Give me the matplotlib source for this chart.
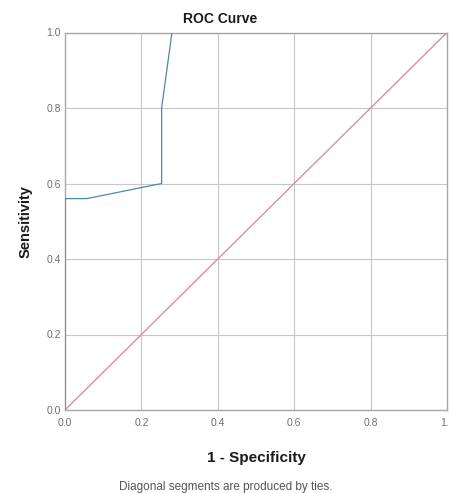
import matplotlib
matplotlib.use("Agg")
import matplotlib.pyplot as plt

fpr = [0.0, 0.0, 0.057, 0.253, 0.253, 0.28, 1.0]
tpr = [0.0, 0.56, 0.56, 0.60, 0.80, 1.0, 1.0]
ref = [0.0, 1.0]
ticks = [0.0, 0.2, 0.4, 0.6, 0.8, 1.0]
tick_labels = ["0.0", "0.2", "0.4", "0.6", "0.8", "1.0"]

plt.rcParams['font.family'] = ['Liberation Sans', 'DejaVu Sans']

fig = plt.figure(figsize=(4.49, 4.93), dpi=100)
ax = fig.add_axes([65/449, 1-410/493, 382/449, 377.5/493])

ax.plot(ref, ref, color="#d9909c", lw=1.0, zorder=2)
ax.plot(fpr, tpr, color="#4a8aa8", lw=0.9, zorder=3)

ax.set_xlim(0, 1)
ax.set_ylim(0, 1)
ax.set_xticks(ticks)
ax.set_xticklabels(tick_labels)
ax.set_yticks(ticks)
ax.set_yticklabels(tick_labels)
ax.grid(True, color="#c4c8cc", lw=0.8)
ax.set_axisbelow(True)
for s in ax.spines.values():
    s.set_color("#a8a8a8")
    s.set_linewidth(1.0)
ax.tick_params(length=0, labelsize=7.5, colors="#707070")
ax.tick_params(axis="x", pad=6)
ax.tick_params(axis="y", pad=3)

ax.set_xlabel("1 - Specificity", fontsize=11, fontweight="bold", color="#1a1a1a", labelpad=16)
ax.set_ylabel("Sensitivity", fontsize=10.5, fontweight="bold", color="#1a1a1a", labelpad=10)
fig.text(220/449, 1-19/493, "ROC Curve", ha="center", va="center", fontsize=10, fontweight="bold", color="#1a1a1a")
fig.text(226/449, 1-487/493, "Diagonal segments are produced by ties.", ha="center", va="center", fontsize=8.5, color="#555555")

fig.savefig("out.png", dpi=100)
